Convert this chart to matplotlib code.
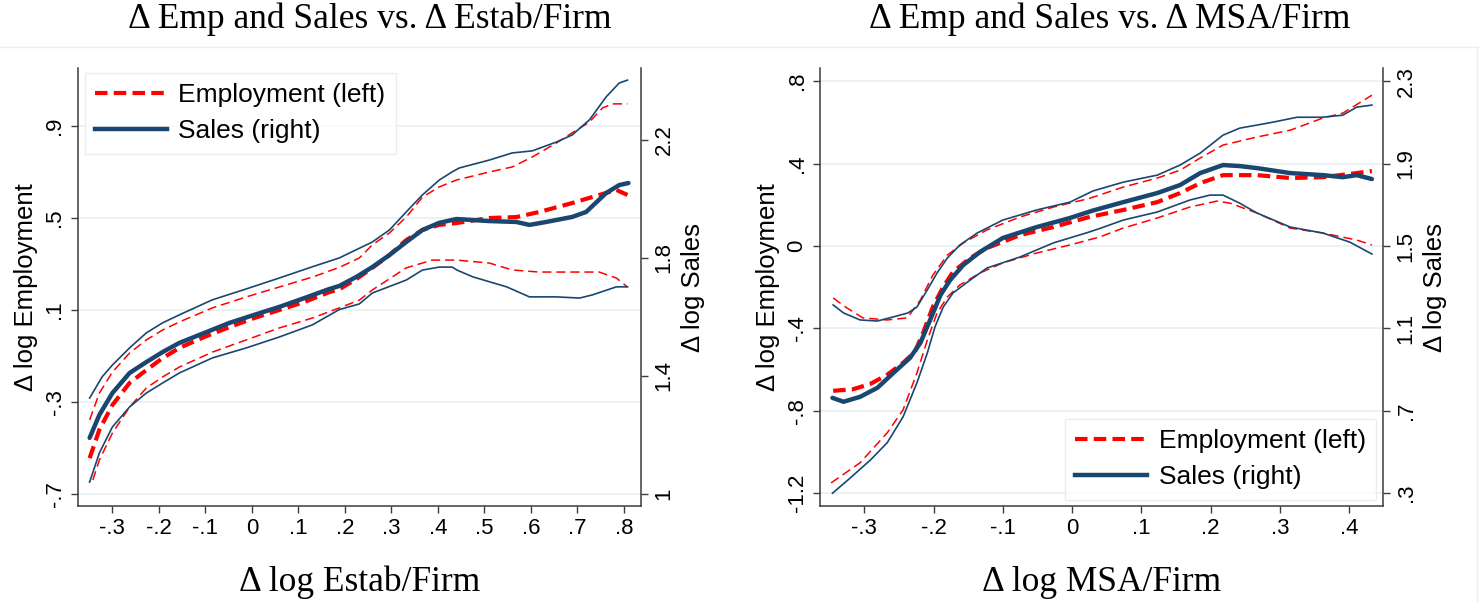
import matplotlib
matplotlib.use("Agg")
import matplotlib.pyplot as plt
from matplotlib.lines import Line2D
from matplotlib.ticker import FixedLocator, FixedFormatter

# ---------------- data: panel 1 (vs. Delta log Estab/Firm) ----------------
p1_title = "Δ Emp and Sales vs. Δ Estab/Firm"
p1_xlabel = "Δ log Estab/Firm"
p1_xticks = [-0.3, -0.2, -0.1, 0.0, 0.1, 0.2, 0.3, 0.4, 0.5, 0.6, 0.7, 0.8]
p1_xticklabels = ["-.3", "-.2", "-.1", "0", ".1", ".2", ".3", ".4", ".5", ".6", ".7", ".8"]
p1_yticks = [-0.7, -0.3, 0.1, 0.5, 0.9]
p1_yticklabels = ["-.7", "-.3", ".1", ".5", ".9"]
p1_y2ticks = [1.0, 1.4, 1.8, 2.2]
p1_y2ticklabels = ["1", "1.4", "1.8", "2.2"]

p1_emp_x = [-0.349, -0.328, -0.30, -0.263, -0.227, -0.192, -0.156, -0.102, -0.048, 0.005,
            0.059, 0.113, 0.167, 0.188, 0.225, 0.259, 0.296, 0.332, 0.367, 0.403, 0.44,
            0.511, 0.569, 0.618, 0.689, 0.762, 0.784, 0.808]
p1_emp_y = [-0.544, -0.42, -0.313, -0.217, -0.161, -0.109, -0.065, -0.017, 0.026, 0.065,
            0.10, 0.135, 0.178, 0.19, 0.235, 0.283, 0.339, 0.404, 0.448, 0.47, 0.478,
            0.50, 0.504, 0.526, 0.565, 0.609, 0.622, 0.60]

p1_emp_hi_x = [-0.349, -0.328, -0.30, -0.263, -0.227, -0.192, -0.156, -0.085, -0.012, 0.059,
               0.13, 0.188, 0.231, 0.259, 0.296, 0.332, 0.367, 0.403, 0.44, 0.511, 0.56,
               0.603, 0.655, 0.689, 0.726, 0.754, 0.776, 0.808]
p1_emp_hi_y = [-0.378, -0.261, -0.17, -0.087, -0.03, 0.013, 0.048, 0.109, 0.157, 0.20,
               0.243, 0.285, 0.326, 0.383, 0.435, 0.504, 0.591, 0.635, 0.665, 0.70, 0.722,
               0.765, 0.826, 0.87, 0.917, 0.978, 0.996, 0.996]

p1_emp_lo_x = [-0.342, -0.328, -0.30, -0.263, -0.227, -0.192, -0.156, -0.085, -0.012, 0.059,
               0.13, 0.188, 0.231, 0.259, 0.332, 0.388, 0.44, 0.511, 0.56, 0.618, 0.689,
               0.747, 0.784, 0.808]
p1_emp_lo_y = [-0.639, -0.552, -0.435, -0.322, -0.239, -0.191, -0.148, -0.083, -0.03, 0.022,
               0.065, 0.109, 0.143, 0.187, 0.283, 0.317, 0.317, 0.304, 0.274, 0.265, 0.265,
               0.265, 0.239, 0.20]

p1_sal_x = [-0.349, -0.328, -0.30, -0.263, -0.227, -0.192, -0.156, -0.102, -0.048, 0.005,
            0.059, 0.113, 0.167, 0.188, 0.225, 0.259, 0.296, 0.332, 0.367, 0.403, 0.44,
            0.511, 0.569, 0.597, 0.633, 0.689, 0.719, 0.762, 0.79, 0.81]
p1_sal_y = [1.19, 1.268, 1.342, 1.41, 1.447, 1.481, 1.512, 1.546, 1.58, 1.607,
            1.634, 1.664, 1.695, 1.705, 1.736, 1.769, 1.81, 1.854, 1.895, 1.919, 1.932,
            1.925, 1.922, 1.912, 1.922, 1.939, 1.956, 2.02, 2.047, 2.054]

p1_sal_hi_x = [-0.349, -0.322, -0.30, -0.263, -0.227, -0.192, -0.156, -0.085, -0.012, 0.059,
               0.13, 0.188, 0.259, 0.296, 0.332, 0.367, 0.403, 0.431, 0.446, 0.511, 0.56,
               0.603, 0.655, 0.689, 0.726, 0.762, 0.79, 0.808]
p1_sal_hi_y = [1.325, 1.397, 1.437, 1.495, 1.546, 1.58, 1.607, 1.658, 1.695, 1.732,
               1.77, 1.80, 1.854, 1.895, 1.956, 2.014, 2.064, 2.092, 2.105, 2.132, 2.156,
               2.163, 2.193, 2.217, 2.268, 2.346, 2.393, 2.403]

p1_sal_lo_x = [-0.349, -0.328, -0.30, -0.263, -0.227, -0.192, -0.156, -0.085, -0.012, 0.059,
               0.13, 0.188, 0.231, 0.259, 0.332, 0.367, 0.403, 0.431, 0.441, 0.475, 0.548,
               0.597, 0.655, 0.705, 0.733, 0.784, 0.808]
p1_sal_lo_y = [1.04, 1.139, 1.227, 1.295, 1.342, 1.376, 1.41, 1.461, 1.495, 1.532,
               1.573, 1.625, 1.644, 1.681, 1.725, 1.759, 1.769, 1.769, 1.759, 1.736, 1.702,
               1.668, 1.668, 1.664, 1.675, 1.702, 1.702]

# ---------------- data: panel 2 (vs. Delta log MSA/Firm) ----------------
p2_title = "Δ Emp and Sales vs. Δ MSA/Firm"
p2_xlabel = "Δ log MSA/Firm"
p2_xticks = [-0.3, -0.2, -0.1, 0.0, 0.1, 0.2, 0.3, 0.4]
p2_xticklabels = ["-.3", "-.2", "-.1", "0", ".1", ".2", ".3", ".4"]
p2_yticks = [-1.2, -0.8, -0.4, 0.0, 0.4, 0.8]
p2_yticklabels = ["-1.2", "-.8", "-.4", "0", ".4", ".8"]
p2_y2ticks = [0.3, 0.7, 1.1, 1.5, 1.9, 2.3]
p2_y2ticklabels = [".3", ".7", "1.1", "1.5", "1.9", "2.3"]

p2_emp_x = [-0.345, -0.316, -0.291, -0.267, -0.244, -0.227, -0.215, -0.201, -0.186, -0.172,
            -0.147, -0.123, -0.100, -0.075, -0.027, 0.024, 0.074, 0.123, 0.156, 0.185,
            0.218, 0.267, 0.315, 0.362, 0.411, 0.433]
p2_emp_y = [-0.703, -0.695, -0.669, -0.625, -0.567, -0.514, -0.42, -0.295, -0.198, -0.126,
            -0.058, -0.01, 0.02, 0.053, 0.092, 0.14, 0.175, 0.213, 0.257, 0.305,
            0.344, 0.344, 0.33, 0.334, 0.354, 0.364]

p2_emp_hi_x = [-0.345, -0.325, -0.302, -0.267, -0.238, -0.219, -0.201, -0.180, -0.157, -0.123,
               -0.075, -0.027, 0.024, 0.074, 0.123, 0.156, 0.185, 0.218, 0.267, 0.315,
               0.362, 0.391, 0.433]
p2_emp_hi_y = [-0.252, -0.301, -0.349, -0.359, -0.349, -0.262, -0.141, -0.044, 0.015, 0.078,
               0.141, 0.189, 0.23, 0.286, 0.33, 0.368, 0.427, 0.49, 0.529, 0.562,
               0.621, 0.645, 0.732]

p2_emp_lo_x = [-0.348, -0.306, -0.267, -0.244, -0.224, -0.209, -0.195, -0.180, -0.162, -0.133,
               -0.100, -0.051, -0.003, 0.040, 0.074, 0.123, 0.170, 0.209, 0.228, 0.267,
               0.315, 0.362, 0.411, 0.433]
p2_emp_lo_y = [-1.15, -1.052, -0.907, -0.795, -0.616, -0.456, -0.325, -0.247, -0.189, -0.131,
               -0.082, -0.034, 0.005, 0.044, 0.087, 0.136, 0.189, 0.218, 0.208, 0.16,
               0.087, 0.063, 0.029, 0.005]

# Sales series are on the right axis
p2_sal_x = [-0.346, -0.330, -0.306, -0.281, -0.258, -0.234, -0.219, -0.205, -0.190, -0.176,
            -0.157, -0.133, -0.100, -0.051, -0.003, 0.03, 0.074, 0.123, 0.156, 0.185,
            0.218, 0.242, 0.267, 0.315, 0.362, 0.391, 0.411, 0.433]
p2_sal_y = [0.763, 0.744, 0.768, 0.812, 0.884, 0.957, 1.03, 1.141, 1.262, 1.335,
            1.408, 1.471, 1.539, 1.592, 1.636, 1.672, 1.713, 1.757, 1.796, 1.854,
            1.893, 1.888, 1.878, 1.854, 1.844, 1.834, 1.844, 1.825]

p2_sal_hi_x = [-0.345, -0.330, -0.306, -0.281, -0.258, -0.237, -0.224, -0.209, -0.195, -0.180,
               -0.162, -0.137, -0.100, -0.051, -0.003, 0.03, 0.074, 0.123, 0.156, 0.185,
               0.218, 0.242, 0.267, 0.290, 0.325, 0.362, 0.391, 0.411, 0.433]
p2_sal_hi_y = [1.214, 1.175, 1.141, 1.136, 1.156, 1.175, 1.204, 1.287, 1.369, 1.442,
               1.505, 1.563, 1.626, 1.675, 1.713, 1.767, 1.81, 1.844, 1.893, 1.951,
               2.038, 2.072, 2.087, 2.101, 2.125, 2.125, 2.135, 2.174, 2.184]

p2_sal_lo_x = [-0.346, -0.320, -0.291, -0.267, -0.244, -0.224, -0.209, -0.198, -0.186, -0.172,
               -0.147, -0.123, -0.075, -0.027, 0.022, 0.040, 0.074, 0.123, 0.170, 0.199,
               0.218, 0.242, 0.267, 0.315, 0.362, 0.401, 0.433]
p2_sal_lo_y = [0.30, 0.375, 0.462, 0.545, 0.671, 0.836, 0.981, 1.107, 1.204, 1.272,
               1.335, 1.393, 1.447, 1.515, 1.565, 1.585, 1.626, 1.665, 1.723, 1.747,
               1.747, 1.708, 1.66, 1.592, 1.563, 1.519, 1.461]

legend_labels = ["Employment (left)", "Sales (right)"]

# ---------------- styling ----------------
RED = "#ff0000"
NAVY = "#1a476f"
GRID = "#eaf2f3"
AXC = "#3c3c3c"
SANS = ["Liberation Sans", "DejaVu Sans"]
SERIF = ["Liberation Serif", "DejaVu Serif"]

plt.rcParams["font.family"] = SANS

W, H = 1479, 602
fig = plt.figure(figsize=(W / 100, H / 100), dpi=100)
fig.patch.set_facecolor("white")


def frac_rect(x0, x1, ytop, ybot):
    return [x0 / W, 1 - ybot / H, (x1 - x0) / W, (ybot - ytop) / H]


def style_axes(ax, ax2):
    for a in (ax, ax2):
        a.spines["top"].set_visible(False)
        for s in ("left", "right", "bottom"):
            a.spines[s].set_color(AXC)
            a.spines[s].set_linewidth(1.1)
        a.set_facecolor("none")
    ax.spines["right"].set_visible(False)
    ax2.spines["left"].set_visible(False)
    ax2.spines["bottom"].set_visible(False)
    ax.tick_params(axis="both", direction="out", length=5, width=1.0, color=AXC,
                   labelsize=16, pad=4)
    ax2.tick_params(axis="y", direction="out", length=5, width=1.0, color=AXC,
                    labelsize=16, pad=4)
    for lab in ax.get_yticklabels():
        lab.set_rotation(90)
        lab.set_va("center")
        lab.set_ha("right")
    for lab in ax2.get_yticklabels():
        lab.set_rotation(90)
        lab.set_va("center")
        lab.set_ha("left")


def panel(rect, xlim, ylim, y2lim, xt, xtl, yt, ytl, y2t, y2tl,
          emp, emp_hi, emp_lo, sal, sal_hi, sal_lo, title, xlabel, title_x,
          leg_loc, leg_anchor):
    ax = fig.add_axes(rect)
    ax2 = ax.twinx()
    ax.set_xlim(*xlim)
    ax.set_ylim(*ylim)
    ax2.set_ylim(*y2lim)
    ax.xaxis.set_major_locator(FixedLocator(xt))
    ax.xaxis.set_major_formatter(FixedFormatter(xtl))
    ax.yaxis.set_major_locator(FixedLocator(yt))
    ax.yaxis.set_major_formatter(FixedFormatter(ytl))
    ax2.yaxis.set_major_locator(FixedLocator(y2t))
    ax2.yaxis.set_major_formatter(FixedFormatter(y2tl))
    for v in yt:
        ax.axhline(v, color=GRID, lw=1.4, zorder=0)

    thin_dash = (0, (6.0, 3.2))
    thick_dash = (0, (3.0, 1.5))
    ax.plot(*emp_hi, color=RED, lw=1.1, ls=thin_dash, zorder=3)
    ax.plot(*emp_lo, color=RED, lw=1.1, ls=thin_dash, zorder=3)
    ax.plot(*emp, color=RED, lw=3.0, ls=thick_dash, zorder=4)
    ax2.plot(*sal_hi, color=NAVY, lw=1.2, zorder=3)
    ax2.plot(*sal_lo, color=NAVY, lw=1.2, zorder=3)
    ax2.plot(*sal, color=NAVY, lw=3.2, zorder=4, solid_capstyle="round")

    ax.set_ylabel("Δ log Employment", fontsize=18.5, labelpad=5)
    ax2.set_ylabel("Δ log Sales", fontsize=18.5, labelpad=5, rotation=90)
    ax.set_xlabel(xlabel, fontsize=25.5, family=SERIF, labelpad=19)
    style_axes(ax, ax2)

    handles = [Line2D([], [], color=RED, lw=3.0, ls=thick_dash),
               Line2D([], [], color=NAVY, lw=3.2)]
    leg = ax2.legend(handles, legend_labels, loc=leg_loc, bbox_to_anchor=leg_anchor,
                     fontsize=19, frameon=True, fancybox=False, handlelength=2.7,
                     handletextpad=0.45, labelspacing=0.45, borderpad=0.4,
                     borderaxespad=0.0)
    fr = leg.get_frame()
    fr.set_edgecolor("#e3ebee")
    fr.set_linewidth(1.0)
    fr.set_facecolor("white")
    fig.text(title_x / W, 1 - 19 / H, title, ha="center", va="center",
             fontsize=25.5, family=SERIF)
    return ax, ax2


panel(frac_rect(78, 641, 68, 506), (-0.374, 0.837), (-0.752, 1.152), (0.959, 2.444),
      p1_xticks, p1_xticklabels, p1_yticks, p1_yticklabels, p1_y2ticks, p1_y2ticklabels,
      (p1_emp_x, p1_emp_y), (p1_emp_hi_x, p1_emp_hi_y), (p1_emp_lo_x, p1_emp_lo_y),
      (p1_sal_x, p1_sal_y), (p1_sal_hi_x, p1_sal_hi_y), (p1_sal_lo_x, p1_sal_lo_y),
      p1_title, p1_xlabel, 370, "upper left", (0.012, 0.989))

panel(frac_rect(820, 1383, 68, 506), (-0.364, 0.449), (-1.262, 0.864), (0.238, 2.364),
      p2_xticks, p2_xticklabels, p2_yticks, p2_yticklabels, p2_y2ticks, p2_y2ticklabels,
      (p2_emp_x, p2_emp_y), (p2_emp_hi_x, p2_emp_hi_y), (p2_emp_lo_x, p2_emp_lo_y),
      (p2_sal_x, p2_sal_y), (p2_sal_hi_x, p2_sal_hi_y), (p2_sal_lo_x, p2_sal_lo_y),
      p2_title, p2_xlabel, 1110, "lower right", (0.988, 0.014))

# faint graph-region border lines (as in the Stata combined graph)
fig.add_artist(Line2D([0, 1], [1 - 47 / H, 1 - 47 / H], transform=fig.transFigure,
                      color="#e6eef1", lw=1.0))
fig.add_artist(Line2D([1477 / W, 1477 / W], [0, 1 - 47 / H], transform=fig.transFigure,
                      color="#e6eef1", lw=1.0))

fig.savefig("out.png", dpi=100, facecolor="white")
